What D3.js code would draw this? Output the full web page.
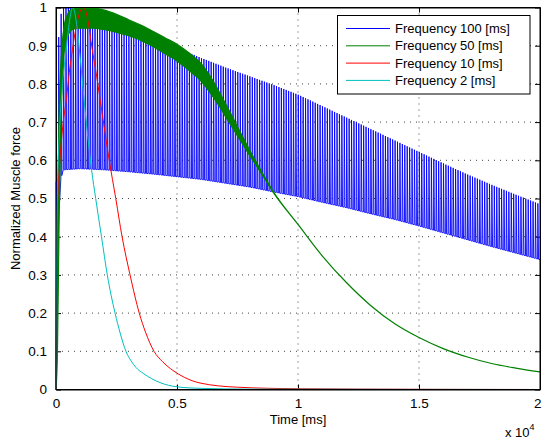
<!DOCTYPE html>
<html><head><meta charset="utf-8">
<script src="https://cdn.jsdelivr.net/npm/d3@7"></script>
<style>
body{margin:0;background:#fff}
svg{display:block}
text{font-family:"Liberation Sans",Arial,Helvetica,sans-serif;fill:#000}
</style>
</head><body>
<svg id="chart" width="542" height="440"></svg>
<script>
// ---------- data ----------
const xTicks = [0, 5000, 10000, 15000, 20000];
const xTickLabels = ["0", "0.5", "1", "1.5", "2"];
const yTicks = [0, 0.1, 0.2, 0.3, 0.4, 0.5, 0.6, 0.7, 0.8, 0.9, 1];
const yTickLabels = ["0", "0.1", "0.2", "0.3", "0.4", "0.5", "0.6", "0.7", "0.8", "0.9", "1"];
const seriesNames = ["Frequency 100 [ms]", "Frequency 50 [ms]", "Frequency 10 [ms]", "Frequency 2 [ms]"];
const seriesColors = ["#0000ff", "#008000", "#ff0000", "#00bfbf"];
const stimulusPeriods = [100, 50]; // ms between stimuli of the two oscillating traces

// Frequency 100: peak / trough envelopes of the oscillation
const blueUpperT = [0, 15, 115, 215, 315, 500, 1000, 2000, 3000, 4000, 5000, 6000, 7000, 8000, 9000, 10000, 11000, 12000, 13000, 14000, 15000, 16000, 17000, 18000, 19000, 20000];
const blueUpperV = [0, 0.68, 0.93, 0.985, 1.0, 1.0, 0.995, 0.975, 0.95, 0.922, 0.895, 0.868, 0.843, 0.82, 0.797, 0.772, 0.742, 0.712, 0.682, 0.652, 0.622, 0.592, 0.563, 0.536, 0.51, 0.485];
const blueLowerT = [0, 100, 200, 300, 1000, 2000, 3000, 4000, 5000, 6000, 7000, 8000, 9000, 10000, 11000, 12000, 13000, 14000, 15000, 16000, 17000, 18000, 19000, 20000];
const blueLowerV = [0, 0.44, 0.55, 0.575, 0.578, 0.575, 0.57, 0.564, 0.557, 0.55, 0.54, 0.53, 0.517, 0.505, 0.49, 0.476, 0.46, 0.445, 0.428, 0.41, 0.392, 0.374, 0.357, 0.34];

// Frequency 50: peak / trough envelopes (merge into one curve after ~9 s)
const greenT = [0, 60, 120, 200, 400, 700, 1000, 1500, 2000, 2500, 3000, 3500, 4000, 4500, 5000, 5500, 6000, 6500, 7000, 7500, 8000, 8500, 9000, 10000, 11000, 12000, 13000, 14000, 15000, 16000, 17000, 18000, 19000, 20000];
const greenUpperV = [0, 0.4, 0.7, 0.85, 0.97, 0.998, 1.0, 0.999, 0.993, 0.982, 0.968, 0.954, 0.938, 0.921, 0.904, 0.881, 0.853, 0.807, 0.749, 0.688, 0.627, 0.57, 0.516, 0.432, 0.35, 0.28, 0.22, 0.172, 0.136, 0.107, 0.085, 0.068, 0.056, 0.046];
const greenLowerV = [0, 0.1, 0.4, 0.7, 0.91, 0.943, 0.946, 0.946, 0.942, 0.935, 0.926, 0.914, 0.898, 0.879, 0.86, 0.835, 0.807, 0.765, 0.715, 0.664, 0.613, 0.564, 0.514, 0.432, 0.35, 0.28, 0.22, 0.172, 0.136, 0.107, 0.085, 0.068, 0.056, 0.046];

// Frequency 10
const redT = [0, 30, 80, 160, 300, 430, 550, 680, 850, 1000, 1100, 1230, 1350, 1475, 1680, 1890, 2200, 2470, 2730, 3060, 3440, 3700, 4050, 4400, 4830, 5300, 5950, 7500, 10000, 15000, 20000];
const redV = [0, 0.4, 0.52, 0.6, 0.7, 0.76, 0.83, 0.89, 0.955, 0.99, 1.0, 0.99, 0.955, 0.9, 0.82, 0.73, 0.6, 0.5, 0.4, 0.3, 0.2, 0.15, 0.1, 0.073, 0.05, 0.032, 0.017, 0.006, 0.002, 0.0005, 0];

// Frequency 2
const cyanT = [0, 25, 55, 140, 270, 440, 570, 690, 810, 950, 1130, 1300, 1470, 1640, 1880, 2120, 2440, 2650, 2890, 3100, 3300, 3610, 4300, 5000, 6000, 8000, 20000];
const cyanV = [0, 0.35, 0.5, 0.67, 0.8, 0.9, 0.97, 1.0, 0.975, 0.9, 0.78, 0.67, 0.575, 0.5, 0.4, 0.3, 0.2, 0.148, 0.1, 0.075, 0.058, 0.042, 0.018, 0.007, 0.003, 0.001, 0];

// ---------- layout ----------
const L = 56, R = 540, T = 7.5, B = 389.5;
const svg = d3.select("#chart");
const x = d3.scaleLinear().domain([0, 20000]).range([L, R]);
const y = d3.scaleLinear().domain([0, 1]).range([B, T]);

// grid (dotted)
const grid = svg.append("g");
grid.selectAll(".gx").data(xTicks.slice(1, -1)).enter().append("line")
  .attr("x1", d => x(d)).attr("x2", d => x(d)).attr("y1", T).attr("y2", B)
  .attr("stroke", "#444").attr("stroke-width", 1).attr("stroke-dasharray", "1,5");
grid.selectAll(".gy").data(yTicks.slice(1, -1)).enter().append("line")
  .attr("y1", d => y(d)).attr("y2", d => y(d)).attr("x1", L).attr("x2", R)
  .attr("stroke", "#444").attr("stroke-width", 1).attr("stroke-dasharray", "1,5");

// axes with inward ticks on all four sides
const fmtX = (d, i) => xTickLabels[i];
const fmtY = (d, i) => yTickLabels[i];
const axB = svg.append("g").attr("transform", `translate(0,${B})`)
  .call(d3.axisBottom(x).tickValues(xTicks).tickFormat(fmtX).tickSizeInner(-5).tickSizeOuter(0).tickPadding(9));
const axL = svg.append("g").attr("transform", `translate(${L},0)`)
  .call(d3.axisLeft(y).tickValues(yTicks).tickFormat(fmtY).tickSizeInner(-5).tickSizeOuter(0).tickPadding(9));
const axT = svg.append("g").attr("transform", `translate(0,${T})`)
  .call(d3.axisTop(x).tickValues(xTicks).tickFormat("").tickSizeInner(-5).tickSizeOuter(0));
const axR = svg.append("g").attr("transform", `translate(${R},0)`)
  .call(d3.axisRight(y).tickValues(yTicks).tickFormat("").tickSizeInner(-5).tickSizeOuter(0));
[axB, axL, axT, axR].forEach(a => {
  a.selectAll("path").attr("stroke", "#000");
  a.selectAll("line").attr("stroke", "#000");
  a.selectAll("text").style("font-family", '"Liberation Sans", Arial, sans-serif').style("font-size", "13.5px").attr("fill", "#000");
});
// keep the last x label inside the window
axB.selectAll(".tick").filter(d => d === 20000).select("text").attr("text-anchor", "end").attr("dx", "1px");

// ---------- data marks ----------
const plot = svg.append("g");
const line = d3.line().x(d => x(d[0])).y(d => y(d[1]));
const smooth = d3.line().x(d => x(d[0])).y(d => y(d[1])).curve(d3.curveMonotoneX);

function oscillation(upT, upV, loT, loV, period, rise, fall) {
  const up = d3.scaleLinear().domain(upT).range(upV).clamp(true);
  const lo = d3.scaleLinear().domain(loT).range(loV).clamp(true);
  const pts = [];
  for (const t0 of d3.range(0, 20000, period)) {
    pts.push([t0, lo(t0)]);
    pts.push([t0 + rise, up(t0 + rise)]);
    pts.push([t0 + fall, lo(t0 + fall)]);
  }
  pts.push([20000, lo(20000)]);
  return pts;
}

// Frequency 100
const bluePts = oscillation(blueUpperT, blueUpperV, blueLowerT, blueLowerV, stimulusPeriods[0], 12, 40);
plot.append("path").datum(bluePts).attr("d", line)
  .attr("fill", "none").attr("stroke", seriesColors[0]).attr("stroke-width", 0.9);

// Frequency 50 (oscillation too dense to resolve: a filled band between its envelopes)
const greenRows = greenT.map((t, i) => [t, greenUpperV[i], greenLowerV[i]]);
plot.append("path").datum(greenRows)
  .attr("d", d3.area().x(d => x(d[0])).y0(d => y(d[2])).y1(d => y(d[1])).curve(d3.curveMonotoneX))
  .attr("fill", seriesColors[1]).attr("stroke", seriesColors[1]).attr("stroke-width", 1.2);

// Frequency 10 and 2
plot.append("path").datum(d3.zip(redT, redV)).attr("d", smooth)
  .attr("fill", "none").attr("stroke", seriesColors[2]).attr("stroke-width", 1);
plot.append("path").datum(d3.zip(cyanT, cyanV)).attr("d", smooth)
  .attr("fill", "none").attr("stroke", seriesColors[3]).attr("stroke-width", 1);

// frame on top
svg.append("rect").attr("x", L).attr("y", T).attr("width", R - L).attr("height", B - T)
  .attr("fill", "none").attr("stroke", "#000").attr("stroke-width", 1);

// axis titles
svg.append("text").attr("x", 298).attr("y", 423.5).attr("text-anchor", "middle")
  .style("font-size", "13px").text("Time [ms]");
svg.append("text").attr("transform", `translate(20,${(T + B) / 2}) rotate(-90)`)
  .attr("text-anchor", "middle").style("font-size", "13px").text("Normalized Muscle force");
const mult = svg.append("text").attr("x", 505).attr("y", 437).style("font-size", "13px");
mult.append("tspan").text("x 10");
mult.append("tspan").attr("dy", -7).style("font-size", "9px").text("4");

// legend
const lg = svg.append("g");
lg.append("rect").attr("x", 337.5).attr("y", 15.5).attr("width", 192.5).attr("height", 78.5)
  .attr("fill", "#fff").attr("stroke", "#000").attr("stroke-width", 1);
const rows = lg.selectAll(".row").data(seriesNames).enter().append("g")
  .attr("transform", (d, i) => `translate(0,${28.5 + i * 17.3})`);
rows.append("line").attr("x1", 346).attr("x2", 390).attr("y1", 0).attr("y2", 0)
  .attr("stroke", (d, i) => seriesColors[i]).attr("stroke-width", 1);
rows.append("text").attr("x", 395).attr("y", 4.6).style("font-size", "13px").text(d => d);
</script>
</body></html>
